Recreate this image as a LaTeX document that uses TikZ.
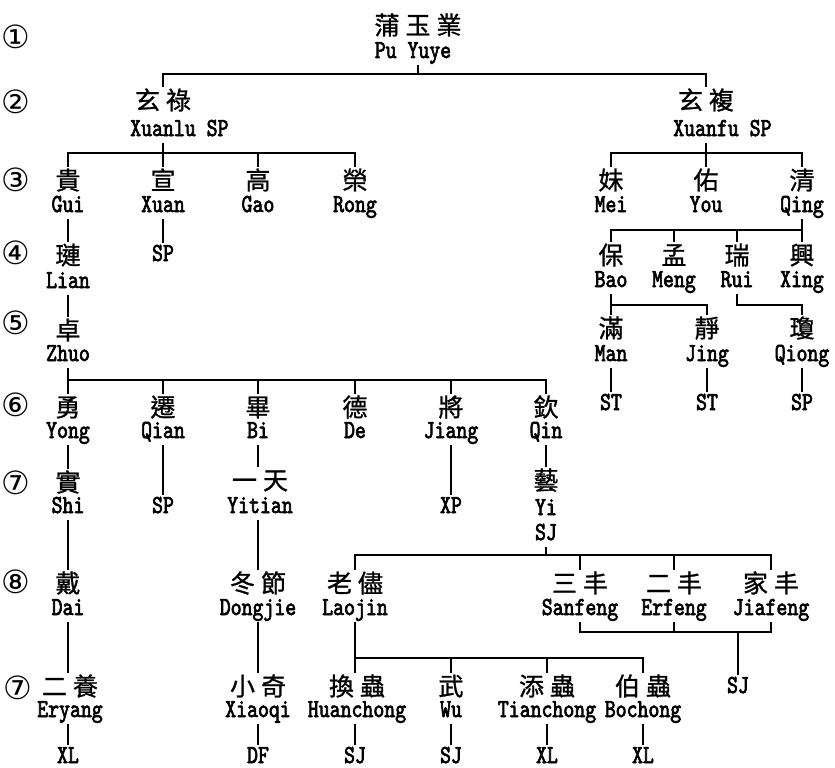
\documentclass[tikz,border=0pt]{standalone}
\usepackage{fontspec}
\newfontfamily\cjkf{Noto Sans CJK TC}[FakeBold=1]
\newfontfamily\romf{lmmono10-regular.otf}[FakeStretch=0.8,FakeBold=2.5]
\newfontfamily\symf{DejaVu Sans}
\newcommand\cgap{\kern6pt}
\newcommand\PersonNode[6]{%
  \node[cn] (#1) at (#2,#3+9.5) {#5};
  \node[rm] (#1-r) at (#2,#4+8) {#6};}
\begin{document}
\begin{tikzpicture}[x=1pt,y=-1pt,
  ln/.style={line width=1.5pt},
  cn/.style={font=\cjkf\fontsize{25}{25}\selectfont, inner sep=0pt, outer sep=1pt, text height=22pt, text depth=2pt, anchor=base},
  rm/.style={font=\romf\fontsize{26}{26}\selectfont, inner sep=0pt, outer sep=1pt, text height=17pt, text depth=6pt, anchor=base},
  mk/.style={font=\symf\fontsize{32}{32}\selectfont, inner sep=0pt, anchor=center}]
\useasboundingbox (0,0) rectangle (835,768);

% generation markers
\node[mk] (m1) at (16,37) {①};
\node[mk] (m2) at (16,102) {②};
\node[mk] (m3) at (16,180) {③};
\node[mk] (m4) at (16,253) {④};
\node[mk] (m5) at (16,323) {⑤};
\node[mk] (m6) at (16,405) {⑥};
\node[mk] (m7) at (16,483) {⑦};
\node[mk] (m8) at (16,582) {⑧};
\node[mk] (m9) at (18,688) {⑦};

% bar levels
\coordinate (b74) at (0,74);
\coordinate (b153) at (0,153);
\coordinate (b230) at (0,230);
\coordinate (b305) at (0,305);
\coordinate (b380) at (0,380);
\coordinate (b555) at (0,555);
\coordinate (b632) at (0,632);
\coordinate (b658) at (0,658);

% generation 1
\node[cn] (pu) at (418,25+9.5) {蒲\cgap 玉\cgap 業};
\node[rm] (pu-r) at (413,50+8) {Pu Yuye};

% generation 2
\PersonNode{xuanlu}{163}{100}{128}{玄\cgap 祿}{Xuanlu\rlap{ SP}}
\PersonNode{xuanfu}{706}{100}{128}{玄\cgap 複}{Xuanfu\rlap{ SP}}

% generation 3
\PersonNode{gui}{68}{180}{204}{貴}{Gui}
\PersonNode{xuan}{163}{180}{204}{宣}{Xuan}
\PersonNode{gao}{258}{180}{204}{高}{Gao}
\PersonNode{rong}{355}{180}{204}{榮}{Rong}
\PersonNode{mei}{611}{180}{204}{妹}{Mei}
\PersonNode{you}{706}{180}{204}{佑}{You}
\PersonNode{qing}{802}{180}{204}{清}{Qing}

% generation 4
\PersonNode{lian}{68}{255}{280}{璉}{Lian}
\node[rm] (xuansp) at (163,253+8) {SP};
\PersonNode{bao}{611}{255}{279}{保}{Bao}
\PersonNode{meng}{674}{255}{279}{孟}{Meng}
\PersonNode{rui}{737}{255}{279}{瑞}{Rui}
\PersonNode{xing}{802}{255}{279}{興}{Xing}

% generation 5
\PersonNode{zhuo}{68}{330}{353}{卓}{Zhuo}
\PersonNode{man}{611}{328}{353}{滿}{Man}
\PersonNode{jing}{707}{328}{353}{靜}{Jing}
\PersonNode{qiong}{802}{328}{353}{瓊}{Qiong}
\node[rm] (manst) at (611,402+8) {ST};
\node[rm] (jingst) at (707,402+8) {ST};
\node[rm] (qiongsp) at (802,402+8) {SP};

% generation 6
\PersonNode{yong}{68}{407}{430}{勇}{Yong}
\PersonNode{qian}{163}{407}{430}{遷}{Qian}
\PersonNode{bi}{258}{407}{430}{畢}{Bi}
\PersonNode{de}{355}{407}{430}{德}{De}
\PersonNode{jiang}{451}{407}{430}{將}{Jiang}
\PersonNode{qin}{546}{407}{430}{欽}{Qin}

% generation 7
\PersonNode{shi}{68}{482}{505}{實}{Shi}
\node[rm] (qiansp) at (163,505+8) {SP};
\PersonNode{yitian}{260}{480}{505}{一\cgap 天}{Yitian}
\node[rm] (jiangxp) at (451,505+8) {XP};
\PersonNode{yi}{546}{480}{507}{藝}{Yi}
\node[rm] (yisj) at (546,532+8) {SJ};

% generation 8
\PersonNode{dai}{68}{583}{607}{戴}{Dai}
\PersonNode{dongjie}{258}{583}{607}{冬\cgap 節}{Dongjie}
\PersonNode{laojin}{355}{583}{607}{老\cgap 儘}{Laojin}
\PersonNode{sanfeng}{580}{583}{607}{三\cgap 丰}{Sanfeng}
\PersonNode{erfeng}{674}{583}{607}{二\cgap 丰}{Erfeng}
\PersonNode{jiafeng}{771}{583}{607}{家\cgap 丰}{Jiafeng}
\node[rm] (fengsj) at (738,685+8) {SJ};

% generation 9
\PersonNode{eryang}{70}{686}{709}{二\cgap 養}{Eryang}
\PersonNode{xiaoqi}{258}{686}{709}{小\cgap 奇}{Xiaoqi}
\PersonNode{huanchong}{357}{686}{709}{換\cgap 蟲}{Huanchong}
\PersonNode{wu}{451}{686}{709}{武}{Wu}
\PersonNode{tianchong}{547}{686}{709}{添\cgap 蟲}{Tianchong}
\PersonNode{bochong}{643}{686}{709}{伯\cgap 蟲}{Bochong}
\node[rm] (eryangxl) at (68,755+8) {XL};
\node[rm] (xiaoqidf) at (258,755+8) {DF};
\node[rm] (huanchongsj) at (355,755+8) {SJ};
\node[rm] (wusj) at (451,755+8) {SJ};
\node[rm] (tianchongxl) at (547,755+8) {XL};
\node[rm] (bochongxl) at (643,755+8) {XL};

% ---------- connectors ----------
\draw[ln] (pu |- pu-r.south) -- (pu |- b74);
\draw[ln] (xuanlu.north) -- (xuanlu.north |- b74) -- (xuanfu.north |- b74) -- (xuanfu.north);

\draw[ln] (xuanlu-r.south) -- (xuanlu-r.south |- b153);
\draw[ln] (gui.north) -- (gui.north |- b153) -- (rong.north |- b153) -- (rong.north);
\draw[ln] (xuan.north) -- (xuan.north |- b153);
\draw[ln] (gao.north) -- (gao.north |- b153);

\draw[ln] (xuanfu-r.south -| xuanfu) -- (xuanfu |- b153);
\draw[ln] (mei.north) -- (mei.north |- b153) -- (qing.north |- b153) -- (qing.north);
\draw[ln] (you.north) -- (you.north |- b153);

\draw[ln] (gui-r.south) -- (lian.north);
\draw[ln] (xuan-r.south) -- (xuansp.north);

\draw[ln] (qing-r.south) -- (qing-r.south |- b230);
\draw[ln] (bao.north) -- (bao.north |- b230) -- (xing.north |- b230) -- (xing.north);
\draw[ln] (meng.north) -- (meng.north |- b230);
\draw[ln] (rui.north) -- (rui.north |- b230);

\draw[ln] (lian-r.south) -- (zhuo.north);
\draw[ln] (bao-r.south) -- (man.north);
\draw[ln] (man.north |- b305) -- (jing.north |- b305) -- (jing.north);
\draw[ln] (rui-r.south) -- (rui-r.south |- b305) -- (qiong.north |- b305) -- (qiong.north);

\draw[ln] (man-r.south) -- (manst.north);
\draw[ln] (jing-r.south) -- (jingst.north);
\draw[ln] (qiong-r.south) -- (qiongsp.north);

\draw[ln] (zhuo-r.south) -- (yong.north);
\draw[ln] (yong.north |- b380) -- (qin.north |- b380) -- (qin.north);
\draw[ln] (qian.north) -- (qian.north |- b380);
\draw[ln] (bi.north) -- (bi.north |- b380);
\draw[ln] (de.north) -- (de.north |- b380);
\draw[ln] (jiang.north) -- (jiang.north |- b380);

\draw[ln] (yong-r.south) -- (shi.north);
\draw[ln] (qian-r.south) -- (qiansp.north);
\draw[ln] (bi-r.south) -- (bi-r.south |- yitian.north);
\draw[ln] (jiang-r.south) -- (jiangxp.north);
\draw[ln] (qin-r.south) -- (yi.north);

\draw[ln] (yisj.south) -- (yisj.south |- b555);
\draw[ln] (laojin.north) -- (laojin.north |- b555) -- (jiafeng.north |- b555) -- (jiafeng.north);
\draw[ln] (sanfeng.north) -- (sanfeng.north |- b555);
\draw[ln] (erfeng.north) -- (erfeng.north |- b555);

\draw[ln] (shi-r.south) -- (dai.north);
\draw[ln] (bi-r.south |- yitian-r.south) -- (dongjie.north);

\draw[ln] (dai-r.south) -- (dai-r.south |- eryang.north);
\draw[ln] (dongjie-r.south) -- (xiaoqi.north);

\draw[ln] (laojin-r.south) -- (laojin-r.south |- huanchong.north);
\draw[ln] (laojin-r.south |- b658) -- (bochong.north |- b658) -- (bochong.north);
\draw[ln] (wu.north) -- (wu.north |- b658);
\draw[ln] (tianchong.north) -- (tianchong.north |- b658);

\draw[ln] (sanfeng-r.south) -- (sanfeng-r.south |- b632) -- (jiafeng-r.south |- b632) -- (jiafeng-r.south);
\draw[ln] (erfeng-r.south) -- (erfeng-r.south |- b632);
\draw[ln] (fengsj.north) -- (fengsj.north |- b632);

\draw[ln] (eryang-r.south -| eryangxl) -- (eryangxl.north);
\draw[ln] (xiaoqi-r.south) -- (xiaoqidf.north);
\draw[ln] (huanchong-r.south -| huanchongsj) -- (huanchongsj.north);
\draw[ln] (wu-r.south) -- (wusj.north);
\draw[ln] (tianchong-r.south) -- (tianchongxl.north);
\draw[ln] (bochong-r.south) -- (bochongxl.north);
\end{tikzpicture}
\end{document}
